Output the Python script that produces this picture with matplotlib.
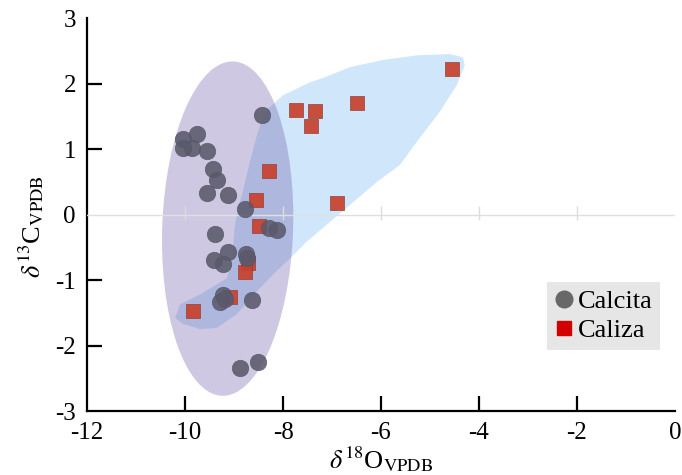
import matplotlib
matplotlib.use("Agg")
import matplotlib.pyplot as plt
from matplotlib.patches import Ellipse, Polygon
from matplotlib.lines import Line2D

plt.rcParams['font.family'] = ['Liberation Serif', 'DejaVu Serif']
plt.rcParams['mathtext.fontset'] = 'stix'

# Data
calcita_x = [-8.43, -10.04, -9.76, -9.86, -10.04, -9.55, -9.43, -9.35, -9.55, -9.12,
             -8.78, -8.29, -8.12, -9.39, -9.12, -9.41, -9.22, -8.76, -8.73, -9.22,
             -9.29, -9.18, -8.63, -8.88, -8.51]
calcita_y = [1.52, 1.16, 1.23, 1.02, 1.02, 0.97, 0.70, 0.52, 0.33, 0.30,
             0.09, -0.21, -0.23, -0.29, -0.57, -0.70, -0.76, -0.61, -0.67, -1.23,
             -1.34, -1.29, -1.31, -2.34, -2.25]
caliza_x = [-7.73, -7.35, -7.43, -6.49, -4.55, -8.29, -8.55, -6.90, -8.49, -8.71,
            -8.78, -9.08, -9.84]
caliza_y = [1.60, 1.58, 1.35, 1.70, 2.22, 0.67, 0.22, 0.17, -0.18, -0.74,
            -0.88, -1.26, -1.47]

# Field outlines
blue_field_x = [-4.29, -4.33, -4.59, -5.27, -5.96, -6.63, -7.24, -7.45, -8.00, -8.37,
                -8.53, -8.71, -8.82, -8.88, -8.98, -9.04, -9.14, -9.69, -10.10, -10.20,
                -10.04, -9.69, -9.35, -8.94, -8.53, -8.20, -7.86, -7.51, -7.10, -6.63,
                -6.08, -5.61, -5.27, -4.80, -4.45]
blue_field_y = [2.28, 2.40, 2.45, 2.43, 2.36, 2.25, 2.07, 2.02, 1.82, 1.57,
                1.22, 0.70, 0.35, 0.20, -0.15, -0.67, -0.97, -1.22, -1.37, -1.58,
                -1.67, -1.75, -1.73, -1.52, -1.17, -0.91, -0.67, -0.41, -0.15, 0.15,
                0.50, 0.76, 1.11, 1.57, 1.98]
ellipse_center = (-9.13, -0.215)
ellipse_size = (2.67, 5.11)

xticks = [-12, -10, -8, -6, -4, -2, 0]
yticks = [-3, -2, -1, 0, 1, 2, 3]
inner_xticks = [-10, -8, -6, -4, -2]

fig = plt.figure(figsize=(6.82, 4.75), dpi=100)
ax = fig.add_axes([0.1276, 0.1347, 0.8621, 0.8273])

ax.add_patch(Polygon(list(zip(blue_field_x, blue_field_y)), closed=True,
                     facecolor='#cfe6fb', edgecolor='none', zorder=1))
ax.add_patch(Ellipse(ellipse_center, ellipse_size[0], ellipse_size[1], angle=-3,
                     facecolor=(112/255, 95/255, 170/255, 0.34), edgecolor='none', zorder=2))

# faint zero line with faint ticks
ax.axhline(0, color='#e0e0e0', linewidth=1.0, zorder=3)
ax.vlines(inner_xticks, -0.09, 0.13, colors='#dcdcdc', linewidth=1.0, zorder=3)

ax.scatter(caliza_x, caliza_y, marker='s', s=100, facecolor='#c9402c',
           edgecolor='#8c3a34', linewidths=0.5, alpha=0.92, zorder=4)
ax.scatter(calcita_x, calcita_y, marker='o', s=140, facecolor='#5a5a6c',
           edgecolor='#555566', linewidths=0.5, alpha=0.88, zorder=5)

ax.set_xlim(-12, 0)
ax.set_ylim(-3, 3)
ax.set_xticks(xticks)
ax.set_yticks(yticks)
ax.set_xticklabels([str(v) for v in xticks])
ax.set_yticklabels([str(v) for v in yticks])

for s in ['top', 'right']:
    ax.spines[s].set_visible(False)
for s in ['left', 'bottom']:
    ax.spines[s].set_linewidth(1.6)
ax.tick_params(direction='in', length=11, width=1.6, labelsize=18, pad=8)
for t, v in zip(ax.xaxis.get_major_ticks(), xticks):
    if v in (-12, 0):
        t.tick1line.set_visible(False)
for t, v in zip(ax.yaxis.get_major_ticks(), yticks):
    if v in (-3, 0, 3):
        t.tick1line.set_visible(False)

ax.set_xlabel(r'$\delta^{18}$O$_{\rm VPDB}$', fontsize=19, labelpad=0)
ax.set_ylabel(r'$\delta^{13}$C$_{\rm VPDB}$', fontsize=19)
ax.yaxis.set_label_coords(-0.07, 0.468)

handles = [Line2D([], [], marker='o', linestyle='none', markersize=12,
                  markerfacecolor='#686868', markeredgecolor='#686868'),
           Line2D([], [], marker='s', linestyle='none', markersize=10,
                  markerfacecolor='#d20000', markeredgecolor='#d20000')]
leg = ax.legend(handles, ['Calcita', 'Caliza'], loc='lower right',
                bbox_to_anchor=(0.975, 0.155), fontsize=19, frameon=True,
                fancybox=False, handlelength=0.7, handletextpad=0.15,
                borderpad=0.3, labelspacing=0.2, borderaxespad=0)
leg.get_frame().set_facecolor('#e6e6e6')
leg.get_frame().set_edgecolor('none')
leg.get_frame().set_alpha(1)

fig.savefig('out.png', dpi=100)
